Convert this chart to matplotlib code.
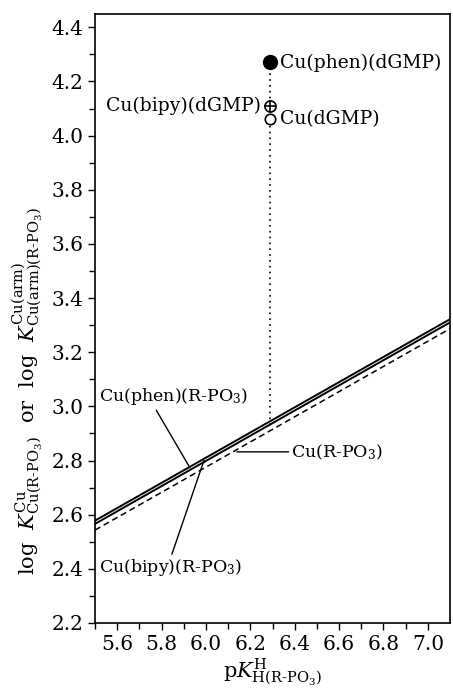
import numpy as np
import matplotlib.pyplot as plt

plt.rcParams['font.family'] = ['DejaVu Serif']
plt.rcParams['mathtext.fontset'] = 'dejavuserif'

# correlation lines (end points)
pka_range = [5.5, 7.1]
logk_cu = [2.543, 3.287]          # Cu(R-PO3), dashed
logk_cu_phen = [2.566, 3.310]     # Cu(phen)(R-PO3)
logk_cu_bipy = [2.578, 3.322]     # Cu(bipy)(R-PO3)

# dGMP points
pka_dgmp = 6.29
logk_points = {'Cu(phen)(dGMP)': 4.27, 'Cu(bipy)(dGMP)': 4.11, 'Cu(dGMP)': 4.06}
logk_line_at_dgmp = 2.93

fig = plt.figure(figsize=(4.53, 6.88), dpi=100)
ax = fig.add_axes([0.2097, 0.0945, 0.7837, 0.8855])

ax.plot(pka_range, logk_cu, color='black', lw=1.1, ls=(0, (4, 2.5)))
ax.plot(pka_range, logk_cu_phen, color='black', lw=1.4)
ax.plot(pka_range, logk_cu_bipy, color='black', lw=1.4)

ax.plot([pka_dgmp, pka_dgmp], [logk_line_at_dgmp, logk_points['Cu(phen)(dGMP)']],
        color='black', lw=1.2, ls=(0, (1, 2.5)), zorder=2)

ax.plot(pka_dgmp, logk_points['Cu(phen)(dGMP)'], 'o', ms=10, color='black', zorder=3)
ax.plot(pka_dgmp, logk_points['Cu(dGMP)'], 'o', ms=7.5, mfc='white', mec='black', mew=1.2, zorder=3)
ax.plot(pka_dgmp, logk_points['Cu(bipy)(dGMP)'], 'o', ms=8, mfc='white', mec='black', mew=1.2, zorder=3)
ax.plot(pka_dgmp, logk_points['Cu(bipy)(dGMP)'], '+', ms=8, mec='black', mew=1.2, zorder=4)

ax.text(6.335, logk_points['Cu(phen)(dGMP)'], 'Cu(phen)(dGMP)', fontsize=13.5, va='center', ha='left')
ax.text(6.25, logk_points['Cu(bipy)(dGMP)'], 'Cu(bipy)(dGMP)', fontsize=13.5, va='center', ha='right')
ax.text(6.335, logk_points['Cu(dGMP)'], 'Cu(dGMP)', fontsize=13.5, va='center', ha='left')

ax.annotate(r'Cu(phen)(R-PO$_3$)', xy=(5.928, 2.773), xytext=(5.52, 3.035),
            fontsize=12.5, va='center', ha='left',
            arrowprops=dict(arrowstyle='-', color='black', lw=1.0,
                            shrinkA=0, shrinkB=0, relpos=(0.37, 0.0)))
ax.annotate(r'Cu(bipy)(R-PO$_3$)', xy=(5.991, 2.80), xytext=(5.52, 2.405),
            fontsize=12.5, va='center', ha='left',
            arrowprops=dict(arrowstyle='-', color='black', lw=1.0,
                            shrinkA=0, shrinkB=0, relpos=(0.5, 1.0)))
ax.annotate(r'Cu(R-PO$_3$)', xy=(6.14, 2.832), xytext=(6.385, 2.832),
            fontsize=12.5, va='center', ha='left',
            arrowprops=dict(arrowstyle='-', color='black', lw=1.0,
                            shrinkA=0, shrinkB=0, relpos=(0.0, 0.5)))

ax.set_xlim(5.5, 7.1)
ax.set_ylim(2.2, 4.45)
ax.set_xticks(np.arange(5.6, 7.01, 0.2))
ax.set_xticks(np.arange(5.5, 7.06, 0.1), minor=True)
ax.set_yticks(np.arange(2.2, 4.41, 0.2))
ax.set_yticks(np.arange(2.3, 4.41, 0.1), minor=True)
ax.xaxis.set_major_formatter(plt.FormatStrFormatter('%.1f'))
ax.yaxis.set_major_formatter(plt.FormatStrFormatter('%.1f'))
ax.tick_params(which='both', direction='out', width=1.0, labelsize=14.5)
ax.tick_params(which='major', length=5)
ax.tick_params(which='minor', length=4)
for s in ax.spines.values():
    s.set_linewidth(1.2)

ax.set_xlabel(r'p$K^{\mathrm{H}}_{\mathrm{H(R\text{-}PO_3)}}$', fontsize=15, labelpad=2)
ax.set_ylabel(r'log  $K^{\mathrm{Cu}}_{\mathrm{Cu(R\text{-}PO_3)}}$  or  log  '
              r'$K^{\mathrm{Cu(arm)}}_{\mathrm{Cu(arm)(R\text{-}PO_3)}}$',
              fontsize=15)
ax.yaxis.set_label_coords(-0.14, 0.38)

fig.savefig('out.png', dpi=100)
